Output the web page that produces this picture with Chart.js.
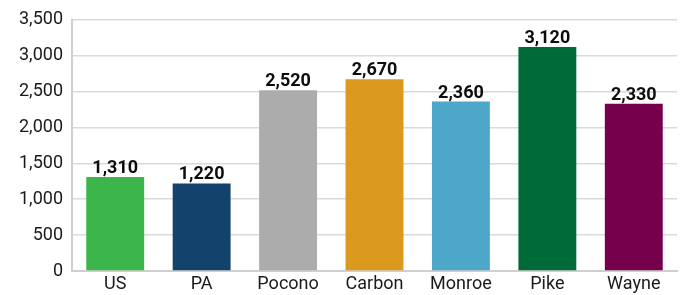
<!DOCTYPE html>
<html>
<head>
<meta charset="utf-8">
<script src="https://cdn.jsdelivr.net/npm/chart.js@4"></script>
<style>
  html, body { margin: 0; padding: 0; background: #fff; }
  #wrap { width: 681px; height: 295px; }
</style>
</head>
<body>
<div id="wrap"><canvas id="myChart" width="681" height="295"></canvas></div>
<script>
const regions = ['US', 'PA', 'Pocono', 'Carbon', 'Monroe', 'Pike', 'Wayne'];
const values = [1310, 1220, 2520, 2670, 2360, 3120, 2330];
const barColors = ['#3cb54a', '#13426c', '#adacac', '#da9a1e', '#4ca7c9', '#006a38', '#76004b'];
const yTicks = [0, 500, 1000, 1500, 2000, 2500, 3000, 3500];

const fmt = (v) => v.toLocaleString('en-US');

// draws the value above each bar
const barLabels = {
  id: 'barLabels',
  afterDatasetsDraw(chart) {
    const ctx = chart.ctx;
    const meta = chart.getDatasetMeta(0);
    ctx.save();
    ctx.font = 'bold 18px Roboto';
    ctx.fillStyle = '#0d0d0d';
    ctx.textAlign = 'center';
    ctx.textBaseline = 'alphabetic';
    meta.data.forEach((bar, i) => {
      ctx.fillText(fmt(values[i]), bar.x, bar.y - 4);
    });
    ctx.restore();
  }
};

const ctx = document.getElementById('myChart');
new Chart(ctx, {
  type: 'bar',
  data: {
    labels: regions,
    datasets: [{
      data: values,
      backgroundColor: barColors,
      borderWidth: 0,
      categoryPercentage: 1,
      barPercentage: 0.67
    }]
  },
  options: {
    responsive: false,
    animation: false,
    layout: { padding: { top: 10, right: 4, left: 0, bottom: 0 } },
    plugins: { legend: { display: false }, tooltip: { enabled: false } },
    scales: {
      x: {
        grid: { display: false, drawTicks: false },
        border: { color: '#cfcfcf', width: 2 },
        ticks: { color: '#1a1a1a', font: { family: 'Roboto', size: 18 }, padding: 3 },
        afterFit(s) { s.height = 24; }
      },
      y: {
        min: 0,
        max: 3500,
        afterBuildTicks(s) { s.ticks = yTicks.map(v => ({ value: v })); },
        grid: { color: '#dadada', lineWidth: 1.5, drawTicks: false },
        border: { color: '#cfcfcf', width: 2 },
        ticks: {
          color: '#1a1a1a',
          font: { family: 'Roboto', size: 18 },
          padding: 9,
          callback: (v) => fmt(v)
        },
        afterFit(s) { s.width = 72; }
      }
    }
  },
  plugins: [barLabels]
});
</script>
</body>
</html>
